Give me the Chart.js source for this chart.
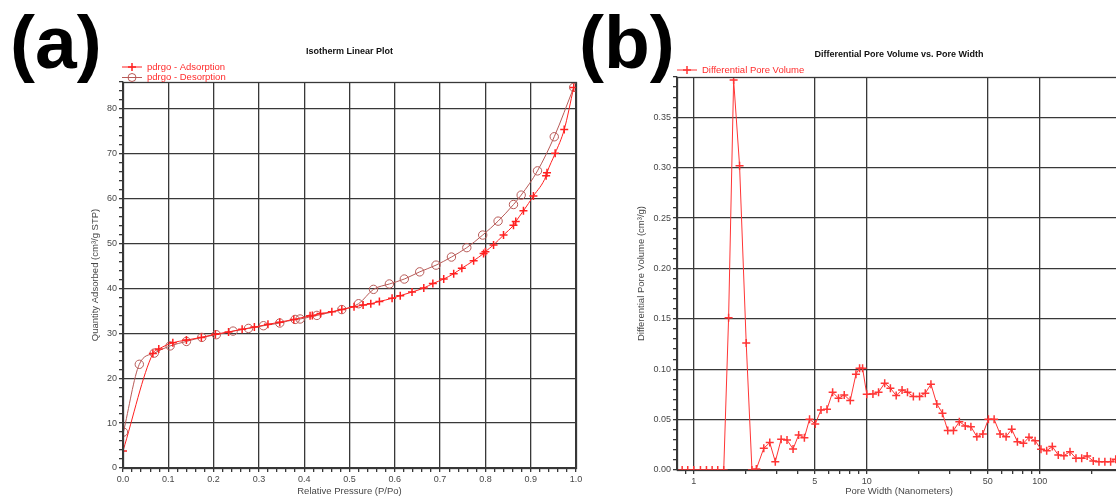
<!DOCTYPE html>
<html>
<head>
<meta charset="utf-8">
<title>Isotherm Linear Plot / Differential Pore Volume</title>
<script src="https://cdn.jsdelivr.net/npm/chart.js"></script>
<style>
    html, body { margin: 0; padding: 0; background: #fff; }
    body { width: 1116px; height: 499px; overflow: hidden; position: relative; font-family: 'Liberation Sans', Arial, sans-serif; }
    canvas { position: absolute; top: 0; }
    #chartA { left: 0; }
    #chartB { left: 590px; }
    .tag { position: absolute; top: 5px; font-size: 75px; line-height: 75px; font-weight: bold; color: #000; }
</style>
</head>
<body>
<canvas id="chartA" width="590" height="499"></canvas>
<canvas id="chartB" width="560" height="499"></canvas>
<div class="tag" style="left:10px">(a)</div>
<div class="tag" style="left:579px">(b)</div>
<script>
// (a) isotherm: relative pressure (P/Po) vs quantity adsorbed (cm3/g STP)
const adsP = [0.000, 0.066, 0.079, 0.110, 0.140, 0.173, 0.204, 0.233, 0.263, 0.290, 0.320, 0.346, 0.377, 0.413, 0.418, 0.436, 0.461, 0.483, 0.510, 0.530, 0.547, 0.566, 0.594, 0.612, 0.638, 0.664, 0.684, 0.708, 0.730, 0.748, 0.774, 0.796, 0.800, 0.818, 0.840, 0.862, 0.867, 0.884, 0.906, 0.934, 0.936, 0.954, 0.974, 0.995];
const adsQ = [3.8, 25.5, 26.5, 27.9, 28.5, 29.1, 29.8, 30.3, 30.9, 31.4, 32.0, 32.5, 33.1, 33.9, 34.0, 34.4, 34.8, 35.3, 35.9, 36.3, 36.6, 37.1, 37.8, 38.4, 39.2, 40.1, 41.1, 42.1, 43.3, 44.5, 46.2, 47.8, 48.2, 49.7, 51.9, 54.1, 54.9, 57.3, 60.6, 65.1, 65.8, 70.1, 75.4, 84.8];
const desP = [0.001, 0.036, 0.069, 0.104, 0.140, 0.174, 0.206, 0.243, 0.277, 0.310, 0.346, 0.380, 0.391, 0.428, 0.483, 0.520, 0.553, 0.588, 0.621, 0.655, 0.691, 0.725, 0.759, 0.794, 0.828, 0.862, 0.879, 0.915, 0.952, 0.995];
const desQ = [8.0, 23.1, 25.6, 27.2, 28.2, 29.1, 29.7, 30.5, 31.1, 31.7, 32.3, 33.1, 33.2, 34.0, 35.3, 36.6, 39.8, 41.0, 42.1, 43.7, 45.2, 47.0, 49.1, 51.9, 55.0, 58.7, 60.8, 66.2, 73.8, 84.8];

// (b) pore size distribution: pore width (nm) vs differential pore volume (cm3/g)
const poreWidth = [0.857, 0.923, 1.0, 1.093, 1.184, 1.277, 1.376, 1.49, 1.59, 1.70, 1.84, 2.01, 2.17, 2.30, 2.54, 2.75, 2.96, 3.20, 3.46, 3.75, 4.04, 4.36, 4.67, 5.04, 5.44, 5.89, 6.35, 6.87, 7.41, 8.03, 8.66, 9.09, 9.46, 10.0, 10.86, 11.7, 12.7, 13.7, 14.8, 16.0, 17.2, 18.6, 20.2, 21.8, 23.5, 25.4, 27.4, 29.4, 31.7, 34.3, 37.1, 40.0, 43.3, 46.9, 50.5, 54.5, 59.0, 63.9, 68.9, 74.3, 80.4, 86.7, 94.0, 101.7, 109.7, 118.2, 128, 138, 149.6, 162, 174.8, 188, 204, 220, 238, 257, 275];
const poreVol = [0, 0, 0, 0, 0, 0, 0, 0, 0.151, 0.387, 0.302, 0.126, 0.0, 0.001, 0.0216, 0.0272, 0.0083, 0.0305, 0.0298, 0.0209, 0.0348, 0.0321, 0.0504, 0.0457, 0.0596, 0.0603, 0.0772, 0.0712, 0.0745, 0.0689, 0.0951, 0.101, 0.101, 0.0752, 0.0755, 0.0772, 0.0862, 0.0812, 0.0739, 0.0795, 0.0772, 0.0729, 0.0729, 0.0762, 0.0852, 0.0656, 0.0563, 0.0391, 0.0391, 0.048, 0.0437, 0.043, 0.0331, 0.0358, 0.0504, 0.0504, 0.0358, 0.0331, 0.0404, 0.0281, 0.0265, 0.0325, 0.0291, 0.0206, 0.0192, 0.0232, 0.0149, 0.0142, 0.0182, 0.0116, 0.0116, 0.0139, 0.0089, 0.0083, 0.0083, 0.0083, 0.0106];

// log axis ticks: labelled ones and the minor marks
const poreLabelTicks = [1, 5, 10, 50, 100];
const poreMinorTicks = [0.9, 2, 3, 4, 6, 7, 8, 9, 20, 30, 40, 60, 70, 80, 90, 200];

const FONT = "'Liberation Sans', Arial, sans-serif";
const GRID = '#383838';
Chart.defaults.font.family = FONT;
Chart.defaults.font.size = 9;
Chart.defaults.color = '#474747';

const toXY = (xs, ys) => xs.map((x, i) => ({ x, y: ys[i] }));

// frame box + title + legend drawn at fixed spots (like the instrument report)
const framePlugin = {
    id: 'frame',
    afterDraw(chart, args, o) {
        const { ctx, chartArea: a } = chart;
        ctx.save();
        ctx.strokeStyle = GRID; ctx.lineWidth = 1.3;
        ctx.strokeRect(a.left + 0.5, a.top + 0.5, a.right - a.left, a.bottom - a.top);
        ctx.fillStyle = '#111';
        ctx.font = 'bold 9px ' + FONT;
        ctx.textAlign = 'center'; ctx.textBaseline = 'middle';
        ctx.fillText(o.title, (a.left + a.right) / 2, o.titleY);
        ctx.font = '9.5px ' + FONT;
        ctx.textAlign = 'left';
        chart.data.datasets.forEach((ds, i) => {
            const y = o.legendY + i * 10.5, x0 = o.legendX, xm = x0 + 10;
            ctx.strokeStyle = ds.borderColor; ctx.lineWidth = 1;
            ctx.beginPath(); ctx.moveTo(x0, y); ctx.lineTo(x0 + 20, y); ctx.stroke();
            if (ds.pointStyle === 'circle') {
                ctx.beginPath(); ctx.arc(xm, y, 4, 0, Math.PI * 2); ctx.stroke();
            } else {
                ctx.lineWidth = 1.5;
                ctx.beginPath(); ctx.moveTo(xm - 4, y); ctx.lineTo(xm + 4, y); ctx.moveTo(xm, y - 4); ctx.lineTo(xm, y + 4); ctx.stroke();
            }
            ctx.fillStyle = '#ff2b2b';
            ctx.fillText(ds.label, x0 + 25, y);
        });
        ctx.restore();
    }
};

const majorOnly = (isMajor) => (c) => (c.tick && isMajor(c.tick.value)) ? GRID : 'rgba(0,0,0,0)';

// ---------- (a) ----------
(function () {
    const isX10 = v => Math.round(v * 100) % 10 === 0;
    const isY10 = v => Math.round(v) % 10 === 0;
    new Chart(document.getElementById('chartA'), {
        type: 'line',
        data: {
            datasets: [
                { label: 'pdrgo - Adsorption', data: toXY(adsP, adsQ), borderColor: '#ff2020', backgroundColor: '#ff2020', borderWidth: 1, pointStyle: 'cross', pointRadius: 4, pointBorderWidth: 1.5, cubicInterpolationMode: 'monotone' },
                { label: 'pdrgo - Desorption', data: toXY(desP, desQ), borderColor: '#b85a57', backgroundColor: 'rgba(0,0,0,0)', borderWidth: 1, pointStyle: 'circle', pointRadius: 4.2, pointBorderWidth: 1, cubicInterpolationMode: 'monotone' }
            ]
        },
        options: {
            responsive: false, animation: false, devicePixelRatio: 1,
            layout: { padding: { left: 90, right: 14, top: 82, bottom: 2 } },
            plugins: {
                legend: { display: false }, tooltip: { enabled: false },
                frame: { title: 'Isotherm Linear Plot', titleY: 51.5, legendX: 122, legendY: 67 }
            },
            scales: {
                x: {
                    type: 'linear', min: 0, max: 1,
                    afterFit: s => { s.height = 29; },
                    ticks: { stepSize: 0.02, autoSkip: false, maxRotation: 0, padding: 2, callback: v => isX10(v) ? v.toFixed(1) : '' },
                    grid: { color: majorOnly(isX10), tickColor: GRID, tickLength: 4, lineWidth: 1.3 },
                    border: { color: GRID, width: 1.3 },
                    title: { display: true, text: 'Relative Pressure (P/Po)', font: { size: 9.5 }, padding: 0 }
                },
                y: {
                    type: 'linear', min: 0, max: 86,
                    afterFit: s => { s.width = 33; },
                    ticks: { stepSize: 2, autoSkip: false, padding: 2, callback: v => isY10(v) ? String(v) : '' },
                    grid: { color: majorOnly(isY10), tickColor: GRID, tickLength: 4, lineWidth: 1.3 },
                    border: { color: GRID, width: 1.3 },
                    title: { display: true, text: 'Quantity Adsorbed (cm³/g STP)', font: { size: 9.5 }, padding: 0 }
                }
            }
        },
        plugins: [framePlugin]
    });
})();

// ---------- (b) ----------
(function () {
    const isY5 = v => Math.round(v * 100) % 5 === 0;
    const isLab = v => poreLabelTicks.includes(v);
    new Chart(document.getElementById('chartB'), {
        type: 'line',
        data: {
            datasets: [
                { label: 'Differential Pore Volume', data: toXY(poreWidth, poreVol), borderColor: '#ff3535', backgroundColor: '#ff3535', borderWidth: 1, pointStyle: 'cross', pointRadius: 4, pointBorderWidth: 1.5, tension: 0 }
            ]
        },
        options: {
            responsive: false, animation: false, devicePixelRatio: 1,
            layout: { padding: { left: 46, right: 29, top: 77, bottom: 2 } },
            plugins: {
                legend: { display: false }, tooltip: { enabled: false },
                frame: { title: 'Differential Pore Volume vs. Pore Width', titleY: 54.3, legendX: 87, legendY: 70 }
            },
            scales: {
                x: {
                    type: 'logarithmic', min: 0.8, max: 295,
                    afterFit: s => { s.height = 27; },
                    afterBuildTicks: s => { s.ticks = poreLabelTicks.concat(poreMinorTicks).sort((p, q) => p - q).map(v => ({ value: v })); },
                    ticks: { autoSkip: false, maxRotation: 0, padding: 2, callback: v => isLab(v) ? String(v) : '' },
                    grid: { color: majorOnly(isLab), tickColor: GRID, tickLength: 4, lineWidth: 1.3 },
                    border: { color: GRID, width: 1.3 },
                    title: { display: true, text: 'Pore Width (Nanometers)', font: { size: 9.5 }, padding: 0 }
                },
                y: {
                    type: 'linear', min: 0, max: 0.39,
                    afterFit: s => { s.width = 41; },
                    ticks: { stepSize: 0.01, autoSkip: false, padding: 2, callback: v => isY5(v) ? v.toFixed(2) : '' },
                    grid: { color: majorOnly(isY5), tickColor: GRID, tickLength: 4, lineWidth: 1.3 },
                    border: { color: GRID, width: 1.3 },
                    title: { display: true, text: 'Differential Pore Volume (cm³/g)', font: { size: 9.5 }, padding: 0 }
                }
            }
        },
        plugins: [framePlugin]
    });
})();
</script>
</body>
</html>
